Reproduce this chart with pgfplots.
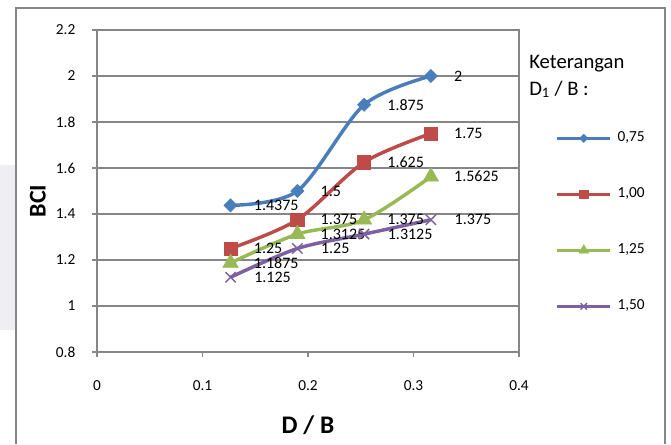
\documentclass[border=0pt]{standalone}
\usepackage{pgfplots}
\pgfplotsset{compat=1.18}
\usepackage{fontspec}
\setmainfont{Carlito}

\definecolor{sBlue}{HTML}{4A7EBB}
\definecolor{sRed}{HTML}{BE4B48}
\definecolor{sGreen}{HTML}{98B954}
\definecolor{sPurple}{HTML}{7D60A0}
\definecolor{axgray}{HTML}{868686}
\definecolor{margin}{HTML}{EFEFF3}

% BCI measurements for each D1/B ratio
\pgfplotstableread{
x       y
0.1266  1.4375
0.1899  1.5
0.2532  1.875
0.3165  2
}\serA
\pgfplotstableread{
x       y
0.1266  1.25
0.1899  1.375
0.2532  1.625
0.3165  1.75
}\serB
\pgfplotstableread{
x       y
0.1266  1.1875
0.1899  1.3125
0.2532  1.375
0.3165  1.5625
}\serC
\pgfplotstableread{
x       y
0.1266  1.125
0.1899  1.25
0.2532  1.3125
0.3165  1.375
}\serD

\begin{document}
\begin{tikzpicture}
\begin{scope}[x=0.75pt,y=-0.75pt]
  \useasboundingbox (0,0) rectangle (671,444);
  \fill[margin] (0,165) rectangle (15,330);
  \draw[axgray, line width=1.5pt] (16,444) -- (16,8) -- (665,8) -- (665,444);
  \node[anchor=base west, inner sep=0pt, font=\fontsize{15.5}{18}\selectfont] at (529,68.3) {Keterangan};
  \node[anchor=base west, inner sep=0pt, font=\fontsize{15.5}{18}\selectfont] at (529,95) {D\textsubscript{1} / B :};
\end{scope}
\begin{axis}[
  at={(72.75pt,-264pt)}, anchor=south west,
  scale only axis, width=316.5pt, height=241.5pt,
  xmin=0, xmax=0.4, ymin=0.8, ymax=2.2,
  xtick={0,0.1,0.2,0.3,0.4},
  ytick={0.8,1,1.2,1.4,1.6,1.8,2,2.2},
  /pgf/number format/assume math mode=true,
  ticklabel style={font=\fontsize{11.5}{13}\selectfont},
  xticklabel style={yshift=-14pt},
  yticklabel style={xshift=-9pt},
  xtick pos=bottom, ytick pos=left,
  tick align=outside, major tick length=3.75pt,
  tick style={axgray, line width=1pt},
  axis line style={axgray, line width=1.1pt},
  ymajorgrids, grid style={axgray, line width=0.8pt},
  xlabel={\textbf{D / B}},
  ylabel={\textbf{BCI}},
  xlabel style={font=\fontsize{19}{22}\selectfont, at={(axis description cs:0.5,-0.227)}, anchor=center},
  ylabel style={font=\fontsize{18}{22}\selectfont, at={(axis description cs:-0.14,0.469)}, anchor=center},
  every axis plot/.append style={line width=2.6pt, smooth},
  nodes near coords,
  every node near coord/.append style={anchor=west, inner sep=0pt, xshift=17.25pt, text=black,
    font=\fontsize{12}{13}\selectfont,
    /pgf/number format/fixed, /pgf/number format/precision=4},
  clip=false,
  legend cell align=left,
  legend style={at={(axis description cs:1.0877,0.6863)}, anchor=north west,
    draw=none, fill=none, inner sep=0pt, outer sep=0pt,
    row sep=31pt, column sep=4.5pt,
    font=\fontsize{11.5}{13}\selectfont,
    nodes={inner sep=0pt, text height=8pt, text depth=3pt}},
  legend image code/.code={
    \draw[line width=2.2pt, mark repeat=2, mark phase=2, /tikz/every mark/.append style={scale=0.62}]
      plot coordinates {(0pt,0pt) (19.75pt,0pt) (39.5pt,0pt)};},
]
\addplot[sBlue, mark=diamond*, mark size=4.9pt, mark options={xscale=1.33, fill=sBlue, line width=0.5pt}] table[x=x,y=y] {\serA};
\addlegendentry{0,75}
\addplot[sRed, mark=square*, mark size=5pt, mark options={fill=sRed, line width=0.5pt}] table[x=x,y=y] {\serB};
\addlegendentry{1,00}
\addplot[sGreen, mark=triangle*, mark size=6.6pt, mark options={fill=sGreen, line width=0.5pt}] table[x=x,y=y] {\serC};
\addlegendentry{1,25}
\addplot[sPurple, mark=x, mark size=5.4pt, mark options={line width=1.1pt}] table[x=x,y=y] {\serD};
\addlegendentry{1,50}
\end{axis}
\end{tikzpicture}
\end{document}
